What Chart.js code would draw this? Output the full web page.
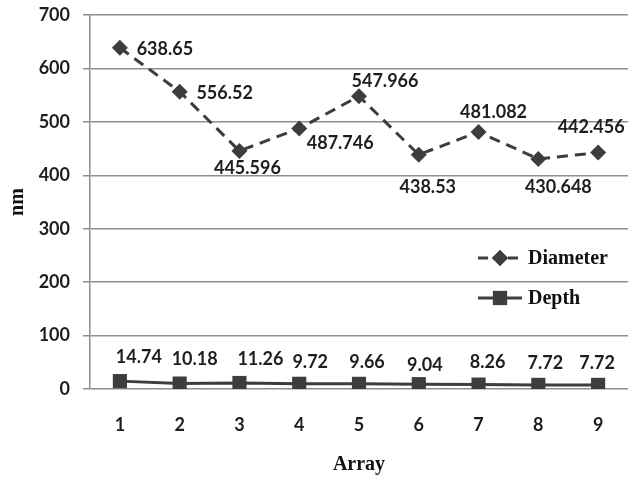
<!DOCTYPE html>
<html>
<head>
<meta charset="utf-8">
<script src="https://cdn.jsdelivr.net/npm/chart.js@4.4.0/dist/chart.umd.min.js"></script>
<style>
  body { margin: 0; background: #fff; }
  #wrap { width: 631px; height: 484px; }
</style>
</head>
<body>
<div id="wrap"><canvas id="myChart" width="631" height="484"></canvas></div>
<script>
// 데이터
const arrays = ['1', '2', '3', '4', '5', '6', '7', '8', '9'];
const diameter = [638.65, 556.52, 445.596, 487.746, 547.966, 438.53, 481.082, 430.648, 442.456];
const depth = [14.74, 10.18, 11.26, 9.72, 9.66, 9.04, 8.26, 7.72, 7.72];
const diameterText = ['638.65', '556.52', '445.596', '487.746', '547.966', '438.53', '481.082', '430.648', '442.456'];
const depthText = ['14.74', '10.18', '11.26', '9.72', '9.66', '9.04', '8.26', '7.72', '7.72'];
const yTicks = [0, 100, 200, 300, 400, 500, 600, 700];

// 라벨 위치 (점 기준 px)
const diameterOffsets = [[45, 1], [45, 2], [8, 17], [41, 15], [26, -15], [9, 32], [15, -20], [20, 28], [-7, -25]];
const depthOffsets = [[19, -24], [15, -24], [21, -24], [11, -22], [8, -22], [6, -19], [9, -22], [7, -22], [-1, -22]];

const lineColor = '#3d3d3d';
const gridColor = '#8e8e8e';
const numFont = "bold 18px Lato";
const serifFont = 'Liberation Serif';

// 값 라벨 그리기
const valueLabels = {
    id: 'valueLabels',
    afterDatasetsDraw(chart) {
        const ctx = chart.ctx;
        ctx.save();
        ctx.font = numFont;
        ctx.fillStyle = '#1e1e1e';
        ctx.textAlign = 'center';
        ctx.textBaseline = 'middle';
        const sets = [[diameterText, diameterOffsets], [depthText, depthOffsets]];
        sets.forEach((s, di) => {
            const meta = chart.getDatasetMeta(di);
            meta.data.forEach((pt, i) => {
                ctx.fillText(s[0][i], pt.x + s[1][i][0], pt.y + s[1][i][1]);
            });
        });
        ctx.restore();
    }
};

// 범례 (플롯 안쪽 오른쪽)
const insideLegend = {
    id: 'insideLegend',
    afterDraw(chart) {
        const ctx = chart.ctx;
        const area = chart.chartArea;
        const x0 = area.right - 150;
        const rows = [
            { text: 'Diameter', dash: [10, 5], style: 'rectRot', r: 8, y: area.top + 243 },
            { text: 'Depth', dash: [], style: 'rect', r: 10, y: area.top + 283 }
        ];
        ctx.save();
        rows.forEach(row => {
            ctx.strokeStyle = lineColor;
            ctx.lineWidth = 3;
            ctx.setLineDash(row.dash);
            ctx.beginPath();
            ctx.moveTo(x0, row.y);
            ctx.lineTo(x0 + 44, row.y);
            ctx.stroke();
            ctx.setLineDash([]);
            ctx.fillStyle = lineColor;
            Chart.helpers.drawPoint(ctx, { pointStyle: row.style, radius: row.r, rotation: 0, borderWidth: 0 }, x0 + 22, row.y);
            ctx.fill();
            ctx.font = 'bold 20px ' + serifFont;
            ctx.fillStyle = '#111';
            ctx.textAlign = 'left';
            ctx.textBaseline = 'middle';
            ctx.fillText(row.text, x0 + 50, row.y + 1);
        });
        ctx.restore();
    }
};

const ctx = document.getElementById('myChart').getContext('2d');
const chart = new Chart(ctx, {
    type: 'line',
    data: {
        labels: arrays,
        datasets: [{
            label: 'Diameter',
            data: diameter,
            borderColor: lineColor,
            backgroundColor: lineColor,
            borderWidth: 3,
            borderDash: [11, 7],
            pointStyle: 'rectRot',
            pointRadius: 8,
            pointBorderWidth: 0,
            tension: 0
        }, {
            label: 'Depth',
            data: depth,
            borderColor: lineColor,
            backgroundColor: lineColor,
            borderWidth: 3,
            pointStyle: 'rect',
            pointRadius: 10,
            pointBorderWidth: 0,
            tension: 0
        }]
    },
    options: {
        responsive: false,
        animation: false,
        layout: { autoPadding: false, padding: { top: 0, right: 3, left: 6, bottom: 0 } },
        plugins: {
            legend: { display: false },
            tooltip: { enabled: false }
        },
        scales: {
            x: {
                offset: true,
                grid: { display: false },
                border: { display: false },
                ticks: { font: { family: 'Lato', size: 18, weight: 'bold' }, color: '#1e1e1e', padding: 17 },
                title: { display: true, text: 'Array', font: { family: serifFont, size: 20, weight: 'bold' }, color: '#111', padding: 7 },
                // 축 크기 직접 고정
                afterFit(axis) {
                    axis.paddingLeft = 0;
                    axis.paddingRight = 0;
                    axis.height = 95;
                }
            },
            y: {
                min: 0,
                max: 700,
                afterBuildTicks(axis) { axis.ticks = yTicks.map(v => ({ value: v })); },
                grid: { color: gridColor, lineWidth: 1.5, tickLength: 7 },
                border: { display: true, color: gridColor, width: 1.5 },
                ticks: { font: { family: 'Lato', size: 18, weight: 'bold' }, color: '#1e1e1e', padding: 13 },
                title: { display: true, text: 'nm', font: { family: serifFont, size: 20, weight: 'bold' }, color: '#111', padding: { top: 0, bottom: 0 } },
                afterFit(axis) {
                    axis.width = 84;
                    axis.paddingTop = 15;
                    axis.paddingBottom = 0;
                }
            }
        }
    },
    plugins: [valueLabels, insideLegend]
});
</script>
</body>
</html>
